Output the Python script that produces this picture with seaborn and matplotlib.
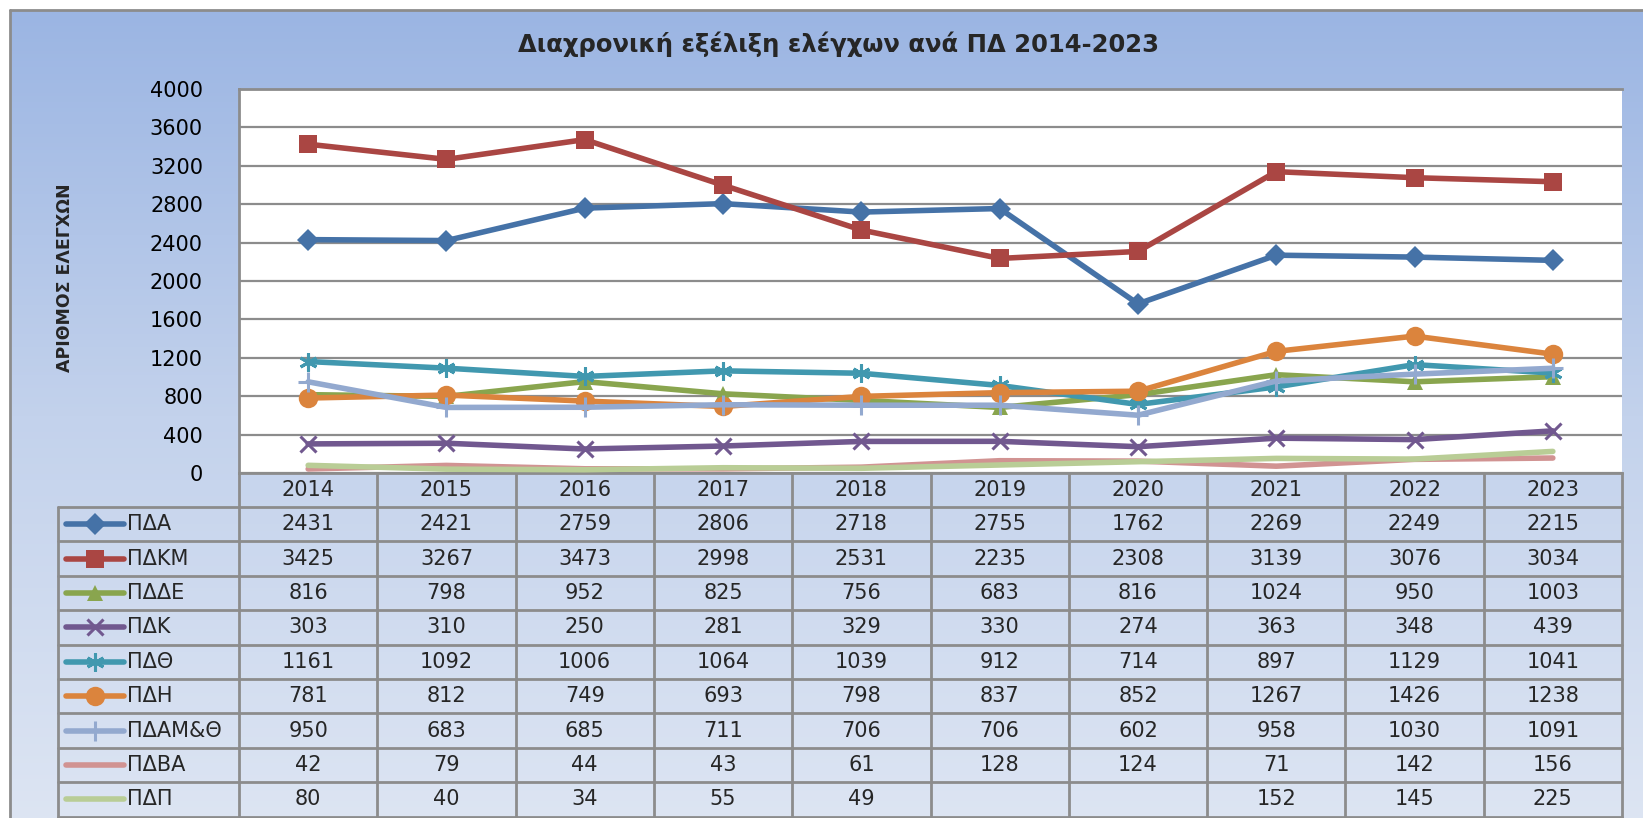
import numpy as np
import pandas as pd
import matplotlib
matplotlib.use("Agg")
import matplotlib.pyplot as plt
import seaborn as sns

# ==========================================
# DATA
# ==========================================

years = [2014, 2015, 2016, 2017, 2018, 2019, 2020, 2021, 2022, 2023]

series_names = ["ΠΔΑ", "ΠΔΚΜ", "ΠΔΔΕ", "ΠΔΚ", "ΠΔΘ", "ΠΔΗ", "ΠΔΑΜ&Θ", "ΠΔΒΑ", "ΠΔΠ"]

pda = [2431, 2421, 2759, 2806, 2718, 2755, 1762, 2269, 2249, 2215]
pdkm = [3425, 3267, 3473, 2998, 2531, 2235, 2308, 3139, 3076, 3034]
pdde = [816, 798, 952, 825, 756, 683, 816, 1024, 950, 1003]
pdk = [303, 310, 250, 281, 329, 330, 274, 363, 348, 439]
pdth = [1161, 1092, 1006, 1064, 1039, 912, 714, 897, 1129, 1041]
pdh = [781, 812, 749, 693, 798, 837, 852, 1267, 1426, 1238]
pdamth = [950, 683, 685, 711, 706, 706, 602, 958, 1030, 1091]
pdva = [42, 79, 44, 43, 61, 128, 124, 71, 142, 156]
pdp = [80, 40, 34, 55, 49, np.nan, np.nan, 152, 145, 225]

values = [pda, pdkm, pdde, pdk, pdth, pdh, pdamth, pdva, pdp]

y_ticks = [0, 400, 800, 1200, 1600, 2000, 2400, 2800, 3200, 3600, 4000]

title = "Διαχρονική εξέλιξη ελέγχων ανά ΠΔ 2014-2023"
y_label = "ΑΡΙΘΜΟΣ ΕΛΕΓΧΩΝ"

# ==========================================
# STYLE
# ==========================================

colors = ["#4572A7", "#AA4643", "#89A54E", "#71588F", "#4198AF",
          "#DB843D", "#93A9CF", "#D19392", "#B9CD96"]
markers = ["D", "s", "^", "x", (6, 2, 0), "o", "+", None, None]
msizes = [11, 13, 12, 12, 13, 14, 14, 0, 0]

sns.set_style("white")
plt.rcParams["font.family"] = ["DejaVu Sans"]

FS = 15

W, H = 1643, 818
fig = plt.figure(figsize=(W / 100, H / 100), dpi=100)

# background in pixel coords
bg = fig.add_axes([0, 0, 1, 1])
bg.set_xlim(0, W)
bg.set_ylim(H, 0)
bg.axis("off")

grad = np.linspace(0, 1, 256).reshape(-1, 1)
cmap = matplotlib.colors.LinearSegmentedColormap.from_list(
    "bgblue", ["#9BB5E3", "#C3D2EC", "#DDE5F3"]
)
bg.imshow(grad, cmap=cmap, aspect="auto", extent=[10, W + 5, H + 5, 10], zorder=0)
bg.plot([10, W + 5], [10, 10], color="#8C8C8C", lw=2, zorder=1)
bg.plot([10, 10], [10, H + 5], color="#8C8C8C", lw=2, zorder=1)

# plot area geometry
x0, x1 = 239, 1622
y_top, y_bot = 89, 473
col_w = (x1 - x0) / len(years)

ax = fig.add_axes([x0 / W, 1 - y_bot / H, (x1 - x0) / W, (y_bot - y_top) / H])
ax.set_facecolor("white")

xs = np.arange(len(years))
for name, vals, c, m, ms in zip(series_names, values, colors, markers, msizes):
    d = pd.DataFrame({"x": xs, "y": vals}).dropna()
    sns.lineplot(
        data=d, x="x", y="y", ax=ax,
        color=c, lw=4,
        marker=m, markersize=ms,
        markeredgewidth=2.2 if m in ("x", "+", (6, 2, 0)) else 0,
        markeredgecolor=c,
        zorder=3,
    )

ax.set_xlim(-0.5, len(years) - 0.5)
ax.set_ylim(0, 4000)
ax.set_yticks(y_ticks)
ax.set_xticks([])
ax.set_xlabel("")
ax.set_ylabel("")
ax.tick_params(axis="y", length=0, labelsize=FS, pad=26, colors="black")
ax.grid(axis="y", color="#8C8C8C", lw=1.6, zorder=1)
ax.spines["right"].set_visible(False)
for s in ["left", "top", "bottom"]:
    ax.spines[s].set_color("#8C8C8C")
    ax.spines[s].set_linewidth(2)

# title and y label
bg.text(838, 44, title, ha="center", va="center", fontsize=17.5, fontweight="bold", zorder=5)
bg.text(65, 278, y_label, ha="center", va="center", rotation=90,
        fontsize=12.5, fontweight="bold", zorder=5)

# ==========================================
# DATA TABLE
# ==========================================

line_kw = dict(color="#8C8C8C", lw=2, zorder=4)
row_h = 34.4
hdr_top, hdr_bot = y_bot, y_bot + 34
leg_x0 = 58

# header row
for i, yr in enumerate(years):
    cx = x0 + col_w * (i + 0.5)
    bg.text(cx, (hdr_top + hdr_bot) / 2, str(yr), ha="center", va="center",
            fontsize=FS, zorder=5)
for i in range(len(years) + 1):
    xx = x0 + col_w * i
    bg.plot([xx, xx], [hdr_top, hdr_bot + row_h * len(series_names)], **line_kw)
bg.plot([leg_x0, leg_x0], [hdr_bot, hdr_bot + row_h * len(series_names)], **line_kw)

for r in range(len(series_names) + 1):
    yy = hdr_bot + row_h * r
    bg.plot([leg_x0, x1], [yy, yy], **line_kw)

for r, (name, vals, c, m, ms) in enumerate(zip(series_names, values, colors, markers, msizes)):
    cy = hdr_bot + row_h * (r + 0.5)
    bg.plot([66, 124], [cy, cy], color=c, lw=4, zorder=5, solid_capstyle="round")
    if m is not None:
        bg.plot([95], [cy], color=c, marker=m, markersize=ms,
                markeredgewidth=2.2 if m in ("x", "+", (6, 2, 0)) else 0,
                markeredgecolor=c, zorder=6)
    bg.text(127, cy, name, ha="left", va="center", fontsize=FS, zorder=5)
    for i, v in enumerate(vals):
        if pd.isna(v):
            continue
        cx = x0 + col_w * (i + 0.5)
        bg.text(cx, cy, f"{int(v)}", ha="center", va="center", fontsize=FS, zorder=5)

fig.savefig("out.png", dpi=100)
